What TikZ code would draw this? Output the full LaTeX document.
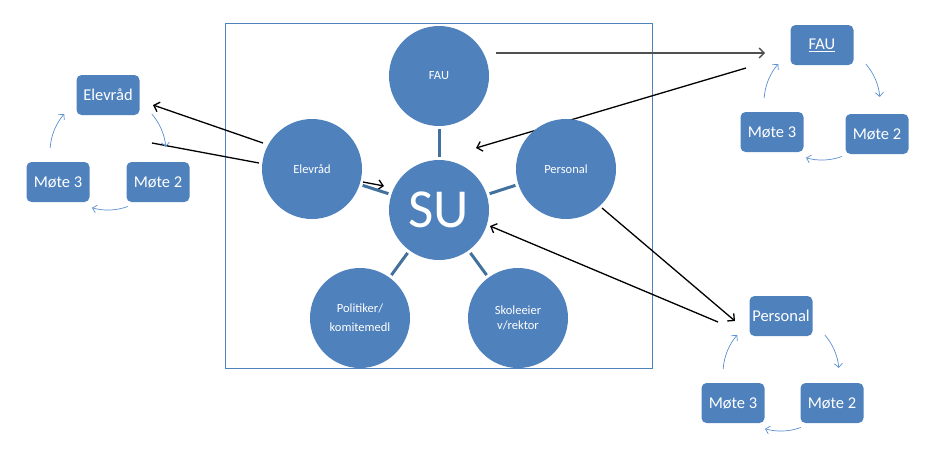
\documentclass[tikz,border=0pt]{standalone}
\usepackage{fontspec}
\setmainfont{Carlito}
\usepackage{xcolor}
\usetikzlibrary{arrows.meta}

\definecolor{suBlue}{HTML}{4F81BD}
\definecolor{suSpoke}{HTML}{41719C}
\definecolor{suArc}{HTML}{5B8FCF}
\definecolor{suGrey}{HTML}{505050}

\tikzset{
	member/.style={circle,fill=suBlue,minimum size=100pt,inner sep=0pt,text=white,
		align=center,font=\fontsize{12.5}{15}\selectfont},
	cyclebox/.style={rectangle,rounded corners=5pt,fill=suBlue,text=white,
		minimum width=63pt,minimum height=40pt,inner sep=0pt,font=\fontsize{16.5}{18}\selectfont},
	spoke/.style={draw=suSpoke,line width=3pt,shorten <=3pt,shorten >=3pt},
	link/.style={->,line width=1.3pt,>={Straight Barb[length=5pt,width=10pt]}},
	cyc/.style={->,draw=suArc,line width=0.7pt,>={Straight Barb[length=4pt,width=8pt]}}
}

\begin{document}
\begin{tikzpicture}[x=1pt,y=-1pt]
		\useasboundingbox (0,0) rectangle (936,475);
		% frame round the council
		\draw[suBlue,line width=0.8pt] (225,23) rectangle (652,368);
		%
		\coordinate (fauOut) at (496,53);
		\coordinate (fauIn) at (765,53);
		\coordinate (fauBack) at (746,68);
		\coordinate (suTop) at (476,148);
		\coordinate (elevOut) at (263,143);
		\coordinate (elevIn) at (153,105);
		\coordinate (elevBack) at (259,163);
		\coordinate (elevEnd) at (152,143);
		\coordinate (elevSuOut) at (363,182);
		\coordinate (elevSuIn) at (384,186);
		\coordinate (persOut) at (602,208);
		\coordinate (persIn) at (735,321);
		\coordinate (persBack) at (718,322);
		\coordinate (suRight) at (490,226);
		%
		\path[link]
		% to and from the cycles
		(fauOut) edge[draw=suGrey] (fauIn)
		(fauBack) edge[draw=black] (suTop)
		(elevOut) edge[draw=black] (elevIn)
		(elevBack) edge[-,draw=black] (elevEnd)
		(elevSuOut) edge[draw=black] (elevSuIn)
		(persOut) edge[draw=black] (persIn)
		(persBack) edge[draw=black] (suRight);
		%
		\node[member] (fau) at (439,76) {FAU};
		\node[member,font=\fontsize{55}{60}\selectfont] (su) at (439,210) {SU};
		\node[member] (elev) at (312,169) {Elevråd};
		\node[member] (pers) at (566,169) {Personal};
		\node[member,font=\fontsize{12.5}{19}\selectfont] (pol) at (360,318) {Politiker/\\komitemedl};
		\node[member] (skole) at (518,318) {Skoleeier\\v/rektor};
		%
		\path[spoke]
		(su) edge (fau)
		(su) edge (elev)
		(su) edge (pers)
		(su) edge (pol)
		(su) edge (skole);
		%
		\node[cyclebox] (elevBox) at (108,95) {Elevråd};
		\node[cyclebox] (moteTwoL) at (158,182) {Møte 2};
		\node[cyclebox] (moteThreeL) at (58,182) {Møte 3};
		\node[cyclebox] (fauBox) at (822,45) {\underline{FAU}};
		\node[cyclebox] (moteTwoF) at (877,134) {Møte 2};
		\node[cyclebox] (moteThreeF) at (772,132) {Møte 3};
		\node[cyclebox] (persBox) at (781,316) {Personal};
		\node[cyclebox] (moteTwoP) at (832,403) {Møte 2};
		\node[cyclebox] (moteThreeP) at (733,403) {Møte 3};
		%
		% cycle arrows
		\coordinate (cycL) at (108,152);
		\coordinate (cycF) at (822,102);
		\coordinate (cycP) at (781,373);
		\foreach \c in {cycL,cycF,cycP}
		\foreach \a/\b in {-41/-5,70/106,-176/-139}
		\draw[cyc] (\c) ++(\a:58) arc[start angle=\a,end angle=\b,radius=58];
	\end{tikzpicture}
\end{document}
